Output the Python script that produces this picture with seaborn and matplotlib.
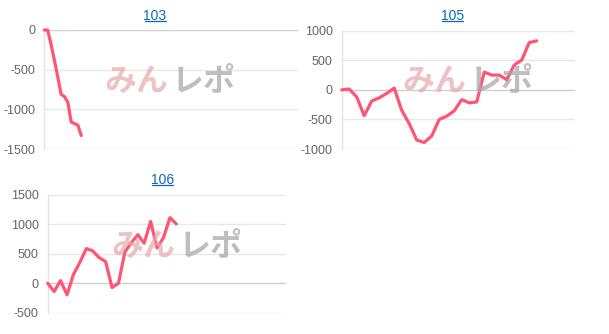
import numpy as np
import pandas as pd
import matplotlib
matplotlib.use("Agg")
import matplotlib.pyplot as plt
from matplotlib.lines import Line2D
import seaborn as sns

# ---- data ----
titles = ["103", "105", "106"]
values_103 = [0, 0, -180, -380, -590, -810, -840, -910, -1160, -1180, -1200, -1330]
values_105 = [0, 14, -120, -437, -190, -135, -60, 30, -345, -570, -848, -890, -780,
              -500, -445, -355, -165, -220, -205, 300, 250, 250, 170, 420, 504, 800, 828]
values_106 = [0, -140, 45, -195, 150, 355, 590, 550, 435, 370, -72, 0, 530, 690,
              825, 680, 1050, 600, 775, 1115, 1008]
yticks_103 = [0, -500, -1000, -1500]
yticks_105 = [1000, 500, 0, -500, -1000]
yticks_106 = [1500, 1000, 500, 0, -500]

W, H = 609, 334
sns.set_theme(style="white")
plt.rcParams["font.family"] = ["Liberation Sans", "DejaVu Sans"]
plt.rcParams["axes.unicode_minus"] = False

fig = plt.figure(figsize=(W / 100, H / 100), dpi=100)

LINE = "#ff5573"


def px_axes(l, r, t, b):
    return fig.add_axes([l / W, 1 - b / H, (r - l) / W, (b - t) / H])


panels = [
    dict(vals=values_103, ticks=yticks_103, ylim=(-1500, 0), xmax=75.5,
         box=(44.3, 298, 30, 149), title=titles[0], tx=155, ty=15.5, wm=(170, 82)),
    dict(vals=values_105, ticks=yticks_105, ylim=(-1000, 1000), xmax=31.1,
         box=(341.7, 575, 30.7, 149), title=titles[1], tx=452.7, ty=15.5, wm=(468, 82)),
    dict(vals=values_106, ticks=yticks_106, ylim=(-500, 1500), xmax=37.0,
         box=(47.7, 285.7, 195, 312.7), title=titles[2], tx=162.3, ty=179.5, wm=(177, 247)),
]

for p in panels:
    ax = px_axes(*p["box"])
    df = pd.DataFrame({"x": np.arange(len(p["vals"])), "y": p["vals"]})
    ax.set_xlim(0, p["xmax"])
    ax.set_ylim(*p["ylim"])
    ax.set_yticks(p["ticks"])
    for t in p["ticks"]:
        ax.axhline(t, color="#cfcfcf" if t == 0 else "#e8e8e8", lw=1.0, zorder=0)
    sns.lineplot(data=df, x="x", y="y", ax=ax, color=LINE, linewidth=2.3,
                 clip_on=False, zorder=3)
    ax.set_xticks([])
    ax.set_xlabel("")
    ax.set_ylabel("")
    for s in ["top", "right", "bottom"]:
        ax.spines[s].set_visible(False)
    ax.spines["left"].set_color("#e3e3e3")
    ax.spines["left"].set_linewidth(1.0)
    ax.tick_params(axis="y", length=0, pad=6.5, labelsize=9, labelcolor="#666666")
    ax.set_facecolor("none")
    ax.grid(False)

    # title (link style)
    fig.text(p["tx"] / W, 1 - p["ty"] / H, p["title"], ha="center", va="center",
             color="#0a66c2", fontsize=10)
    fig.add_artist(Line2D([(p["tx"] - 10.5) / W, (p["tx"] + 10.5) / W],
                          [1 - (p["ty"] + 5.8) / H] * 2, color="#0a66c2", lw=0.9))

    # watermark
    cx, cy = p["wm"]
    fig.text((cx - 2) / W, 1 - cy / H, "みん", ha="right", va="center",
             color="#e6a8ac", alpha=0.7, fontsize=23, fontweight="bold",
             family=["Noto Sans CJK JP", "DejaVu Sans"], zorder=2)
    fig.text((cx + 2) / W, 1 - cy / H, "レポ", ha="left", va="center",
             color="#a8a8a8", alpha=0.75, fontsize=23, fontweight="bold",
             family=["Noto Sans CJK JP", "DejaVu Sans"], zorder=2)

fig.savefig("out.png", dpi=100, facecolor="white")
